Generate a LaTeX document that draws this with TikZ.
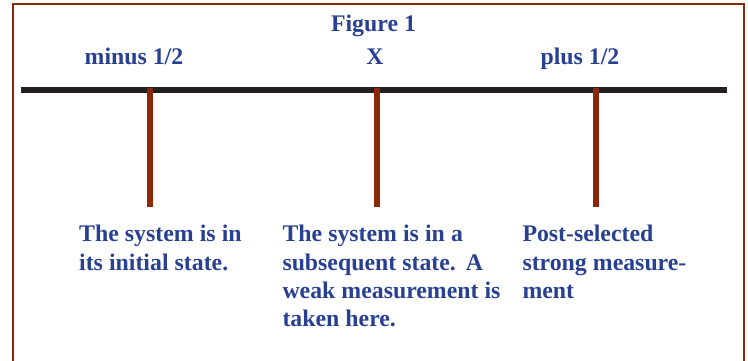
\documentclass[tikz,border=0pt]{standalone}
\usepackage{fontspec}
\setmainfont{Liberation Serif}
\definecolor{txtblue}{RGB}{40,64,146}
\definecolor{rust}{RGB}{140,40,10}
\definecolor{axisblack}{RGB}{35,31,32}
\newcommand{\tightspaces}{\spaceskip=6.1pt\relax\xspaceskip=6.1pt\relax}
\begin{document}
\begin{tikzpicture}[x=1pt,y=-1pt,
  lbl/.style={inner sep=0pt,anchor=base,text=txtblue,font=\fontsize{23.8}{28.3}\selectfont\bfseries},
  para/.style={inner sep=0pt,anchor=base west,text=txtblue,text width=230pt,align=left,font=\fontsize{23.8}{28.3}\selectfont\bfseries,execute at begin node=\tightspaces},
  tick/.style={draw=rust,line width=6pt},
  axis/.style={draw=axisblack,line width=5.5pt},
  frame/.style={draw=rust,line width=2.5pt}]
\useasboundingbox (0,0) rectangle (748,360);
\clip (0,0) rectangle (748,360);
% frame
\draw[frame] (13,380) -- (13,4) -- (744,4) -- (744,380);
% axis
\coordinate (L) at (21,90);
\coordinate (R) at (727,90);
\draw[axis] (L) -- (R);
% ticks
\coordinate (t1) at (150,88); \coordinate (b1) at (150,207);
\coordinate (t2) at (377,88); \coordinate (b2) at (377,207);
\coordinate (t3) at (596,88); \coordinate (b3) at (596,207);
\draw[tick] (t1) -- (b1);
\draw[tick] (t2) -- (b2);
\draw[tick] (t3) -- (b3);
% labels
\node[lbl] (title) at (373.5,31.7) {Figure 1};
\node[lbl] (minus) at (134,64) {minus 1/2};
\node[lbl] (x) at (375,64) {X};
\node[lbl] (plus) at (580,64) {plus 1/2};
% paragraphs
\node[para] (p1) at (79,241.7) {The system is in\\its initial state.};
\node[para] (p2) at (282.3,241.7) {The system is in a\\subsequent state.\hspace{10pt}A\\weak measurement is\\taken here.};
\node[para] (p3) at (522.3,241.7) {Post-selected\\strong measure-\\ment};
\end{tikzpicture}
\end{document}
